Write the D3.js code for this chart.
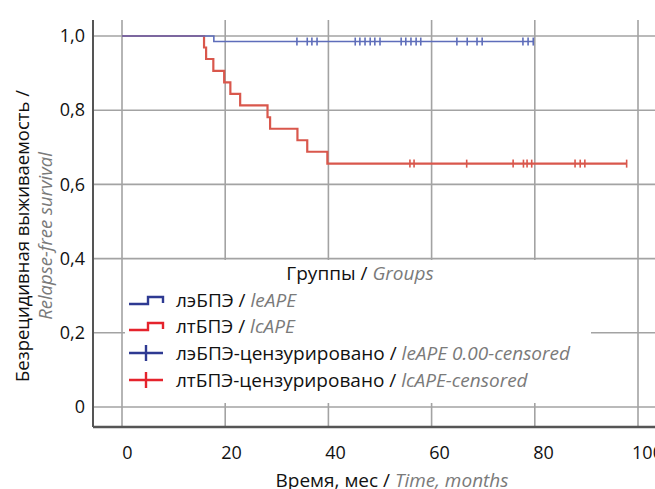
<!DOCTYPE html>
<html>
<head>
<meta charset="utf-8">
<script src="https://cdn.jsdelivr.net/npm/d3@7"></script>
<style>
  body { margin: 0; background: #fff; }
  text { font-family: "Open Sans", sans-serif; }
</style>
</head>
<body>
<div id="chart"></div>
<script>
// red group (lcAPE): event times (months) and survival after each event
var redTimes = [15.9, 16.3, 17.7, 19.8, 21.0, 22.9, 28.2, 28.7, 34.0, 35.9, 39.8];
var redSurv = [0.969, 0.938, 0.906, 0.875, 0.844, 0.813, 0.781, 0.750, 0.719, 0.688, 0.656];
var redEnd = 97.8;
var redCensored = [55.8, 56.6, 66.8, 75.8, 77.8, 78.5, 79.4, 87.8, 88.8, 89.7, 97.8];

// blue group (leAPE)
var blueTimes = [17.8];
var blueSurv = [0.985];
var blueEnd = 79.7;
var blueCensored = [33.9, 35.9, 36.8, 37.8, 45.2, 46.1, 47.1, 48.1, 49.0, 50.0,
  54.1, 55.0, 56.0, 57.0, 57.9, 64.9, 66.9, 68.8, 69.8, 77.7, 78.7, 79.7];

var xTicks = [0, 20, 40, 60, 80, 100];
var yTicks = [0, 0.2, 0.4, 0.6, 0.8, 1.0];
var yTickLabels = ["0", "0,2", "0,4", "0,6", "0,8", "1,0"];

var W = 655, H = 489;
var plot = { left: 93, top: 20, right: 660, bottom: 427 };

var blueCol = "#5e6dba";
var redCol = "#d9574c";
var gridCol = "#a3a3a3";
var fs = 19;

var svg = d3.select("#chart").append("svg")
  .attr("width", W)
  .attr("height", H);

var x = d3.scaleLinear().domain([0, 100]).range([122, 638]);
var xLab = d3.scaleLinear().domain([0, 100]).range([127, 647]);
var y = d3.scaleLinear().domain([0, 1]).range([407, 36]);

// gridlines
var grid = svg.append("g");
grid.selectAll("line.v")
  .data(xTicks)
  .enter().append("line")
  .attr("x1", function (d) { return x(d); })
  .attr("x2", function (d) { return x(d); })
  .attr("y1", plot.top)
  .attr("y2", plot.bottom)
  .attr("stroke", gridCol)
  .attr("stroke-width", 1.6);
grid.selectAll("line.h")
  .data(yTicks)
  .enter().append("line")
  .attr("x1", plot.left)
  .attr("x2", plot.right)
  .attr("y1", function (d) { return y(d); })
  .attr("y2", function (d) { return y(d); })
  .attr("stroke", gridCol)
  .attr("stroke-width", 1.6);

// plot frame (left + bottom)
svg.append("line")
  .attr("x1", plot.left).attr("x2", plot.left)
  .attr("y1", plot.top).attr("y2", plot.bottom)
  .attr("stroke", "#555").attr("stroke-width", 2);
svg.append("line")
  .attr("x1", plot.left).attr("x2", plot.right)
  .attr("y1", plot.bottom).attr("y2", plot.bottom)
  .attr("stroke", "#555").attr("stroke-width", 2.5);

function stepPoints(times, surv, end) {
  var pts = [{ t: 0, s: 1 }];
  for (var i = 0; i < times.length; i++) {
    pts.push({ t: times[i], s: surv[i] });
  }
  pts.push({ t: end, s: surv[surv.length - 1] });
  return pts;
}

var line = d3.line()
  .x(function (d) { return x(d.t); })
  .y(function (d) { return y(d.s); })
  .curve(d3.curveStepAfter);

svg.append("path")
  .datum(stepPoints(redTimes, redSurv, redEnd))
  .attr("d", line)
  .attr("fill", "none")
  .attr("stroke", redCol)
  .attr("stroke-width", 2.2);

svg.append("path")
  .datum(stepPoints(blueTimes, blueSurv, blueEnd))
  .attr("d", line)
  .attr("fill", "none")
  .attr("stroke", blueCol)
  .attr("stroke-width", 1.6);

function drawCensor(times, level, col) {
  svg.append("g").selectAll("line")
    .data(times)
    .enter().append("line")
    .attr("x1", function (d) { return x(d); })
    .attr("x2", function (d) { return x(d); })
    .attr("y1", y(level) - 4)
    .attr("y2", y(level) + 4)
    .attr("stroke", col)
    .attr("stroke-width", 1.6);
}
drawCensor(blueCensored, blueSurv[blueSurv.length - 1], blueCol);
drawCensor(redCensored, redSurv[redSurv.length - 1], redCol);

// axes labels
var yAxis = d3.axisLeft(y)
  .tickValues(yTicks)
  .tickSize(0)
  .tickPadding(0)
  .tickFormat(function (d, i) { return yTickLabels[i]; });
var gy = svg.append("g")
  .attr("transform", "translate(85,0)")
  .call(yAxis);
gy.select(".domain").remove();
gy.selectAll("text")
  .attr("font-size", 18)
  .attr("fill", "#111")
  .style("font-family", "'Open Sans', sans-serif");

var xAxis = d3.axisBottom(xLab)
  .tickValues(xTicks)
  .tickSize(0)
  .tickPadding(0);
var gx = svg.append("g")
  .attr("transform", "translate(0,446)")
  .call(xAxis);
gx.select(".domain").remove();
gx.selectAll("text")
  .attr("font-size", 18)
  .attr("fill", "#111")
  .style("font-family", "'Open Sans', sans-serif");

// axis titles
var xt = svg.append("text")
  .attr("x", 392)
  .attr("y", 487)
  .attr("text-anchor", "middle")
  .attr("font-size", fs);
xt.append("tspan").attr("fill", "#111").text("Время, мес / ");
xt.append("tspan").attr("fill", "#7a7a7a").attr("font-style", "italic").text("Time, months");

svg.append("text")
  .attr("transform", "translate(29,236) rotate(-90)")
  .attr("text-anchor", "middle")
  .attr("font-size", 18.5)
  .attr("fill", "#111")
  .text("Безрецидивная выживаемость /");
svg.append("text")
  .attr("transform", "translate(52,236) rotate(-90)")
  .attr("text-anchor", "middle")
  .attr("font-size", 18.5)
  .attr("fill", "#7a7a7a")
  .attr("font-style", "italic")
  .text("Relapse-free survival");

// legend
var legend = svg.append("g");
legend.append("rect")
  .attr("x", 125).attr("y", 260)
  .attr("width", 466).attr("height", 143)
  .attr("fill", "#fff");

var lt = legend.append("text")
  .attr("x", 360).attr("y", 280)
  .attr("text-anchor", "middle")
  .attr("font-size", fs);
lt.append("tspan").attr("fill", "#111").text("Группы / ");
lt.append("tspan").attr("fill", "#7a7a7a").attr("font-style", "italic").text("Groups");

var legendItems = [
  { ru: "лэБПЭ / ", en: "leAPE", col: "#2e3a92", kind: "step" },
  { ru: "лтБПЭ / ", en: "lcAPE", col: "#e5232c", kind: "step" },
  { ru: "лэБПЭ-цензурировано / ", en: "leAPE 0.00-censored", col: "#2e3a92", kind: "cross" },
  { ru: "лтБПЭ-цензурировано / ", en: "lcAPE-censored", col: "#e5232c", kind: "cross" }
];
var rowY = [300, 326, 353, 380];

legendItems.forEach(function (d, i) {
  var cy = rowY[i];
  if (d.kind == "step") {
    legend.append("path")
      .attr("d", "M129," + (cy + 4) + "H148V" + (cy - 3) + "H163V" + (cy + 3))
      .attr("fill", "none")
      .attr("stroke", d.col)
      .attr("stroke-width", 2.4);
  } else {
    legend.append("path")
      .attr("d", "M129," + cy + "H163M146," + (cy - 8) + "V" + (cy + 8))
      .attr("fill", "none")
      .attr("stroke", d.col)
      .attr("stroke-width", 2.4);
  }
  var t = legend.append("text")
    .attr("x", 176).attr("y", cy + 7)
    .attr("font-size", fs);
  t.append("tspan").attr("fill", "#111").text(d.ru);
  t.append("tspan").attr("fill", "#7a7a7a").attr("font-style", "italic").text(d.en);
});
</script>
</body>
</html>
